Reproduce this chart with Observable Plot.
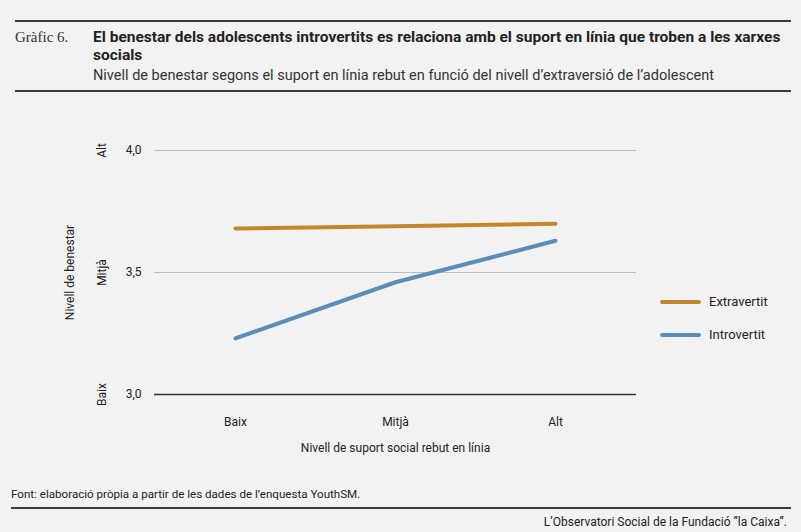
<!DOCTYPE html>
<html>
<head>
<meta charset="utf-8">
<script src="https://cdn.jsdelivr.net/npm/d3@7"></script>
<script src="https://cdn.jsdelivr.net/npm/@observablehq/plot@0.6"></script>
<style>
  html, body { margin: 0; padding: 0; background: #f2f2f2; }
  body { width: 801px; height: 532px; position: relative; overflow: hidden; font-family: Roboto, "Liberation Sans", sans-serif; color: #222; }
  .rule { position: absolute; left: 15px; width: 776px; height: 2px; background: #3a3a3a; }
  .num { position: absolute; left: 15px; top: 29px; font-family: "Liberation Serif", "DejaVu Serif", serif; font-size: 15px; color: #333; }
  .title { position: absolute; left: 93px; top: 28px; width: 695px; font-weight: bold; font-size: 15.5px; line-height: 18px; color: #222; }
  .subtitle { position: absolute; left: 93px; top: 67px; font-size: 14.5px; color: #333; }
  #chart { position: absolute; left: 0; top: 100px; }
  .legend { position: absolute; left: 660px; font-size: 13px; color: #222; }
  .legend span.sw { display: inline-block; width: 41px; height: 4px; border-radius: 2px; vertical-align: middle; margin-right: 8px; position: relative; top: -1px; }
  .source { position: absolute; left: 11px; top: 487px; font-size: 11.6px; color: #222; }
  .credit { position: absolute; right: 14px; top: 515px; font-size: 12px; color: #222; }
</style>
</head>
<body>
<div class="rule" style="top:20px"></div>
<div class="num">Gràfic 6.</div>
<div class="title">El benestar dels adolescents introvertits es relaciona amb el suport en línia que troben a les xarxes socials</div>
<div class="subtitle">Nivell de benestar segons el suport en línia rebut en funció del nivell d’extraversió de l’adolescent</div>
<div class="rule" style="top:90px"></div>
<div id="chart"></div>
<div id="legend"></div>
<div class="source">Font: elaboració pròpia a partir de les dades de l’enquesta YouthSM.</div>
<div class="rule" style="top:507px; left:11px; width:780px"></div>
<div class="credit">L’Observatori Social de la Fundació ”la Caixa”.</div>
<script>
const categories = ["Baix", "Mitjà", "Alt"];
const seriesNames = ["Extravertit", "Introvertit"];
const extravertit = [3.68, 3.69, 3.70];
const introvertit = [3.23, 3.46, 3.63];
const yTicks = [3.0, 3.5, 4.0];
const yLevelLabels = ["Baix", "Mitjà", "Alt"];
const colors = ["#c4862b", "#5b8db7"];

const data = [];
categories.forEach((c, i) => {
  data.push({cat: c, serie: seriesNames[0], value: extravertit[i]});
  data.push({cat: c, serie: seriesNames[1], value: introvertit[i]});
});
const levels = yTicks.map((v, i) => ({v, label: yLevelLabels[i]}));

const fmt = d => d.toFixed(1).replace(".", ",");

const chart = Plot.plot({
  width: 801,
  height: 370,
  marginLeft: 154,
  marginRight: 165,
  marginTop: 50,
  marginBottom: 76,
  style: {background: "transparent", fontFamily: "Roboto, sans-serif", fontSize: "12px", color: "#222"},
  x: {type: "point", domain: categories, padding: 0.5, label: null},
  y: {domain: [3, 4], label: null},
  color: {domain: seriesNames, range: colors},
  marks: [
    Plot.ruleY(yTicks.filter(v => v !== 3), {stroke: "#bdbdbd", strokeWidth: 1}),
    Plot.ruleY([3], {stroke: "#333", strokeWidth: 1.3}),
    Plot.axisY({ticks: yTicks, tickSize: 0, tickPadding: 13, tickFormat: fmt, fontSize: 12, label: null}),
    Plot.text(levels, {y: "v", text: "label", frameAnchor: "left", dx: -52, rotate: -90, textAnchor: "middle", fontSize: 12, fill: "#222"}),
    Plot.text(["Nivell de benestar"], {frameAnchor: "left", dx: -84, rotate: -90, textAnchor: "middle", fontSize: 12, fill: "#222"}),
    Plot.axisX({tickSize: 0, tickPadding: 23, fontSize: 12, label: null}),
    Plot.text(["Nivell de suport social rebut en línia"], {frameAnchor: "bottom", dy: 57, fontSize: 12, fill: "#222"}),
    Plot.line(data, {x: "cat", y: "value", z: "serie", stroke: "serie", strokeWidth: 4, strokeLinecap: "round"})
  ]
});
document.getElementById("chart").appendChild(chart);

const leg = document.getElementById("legend");
seriesNames.forEach((s, i) => {
  const d = document.createElement("div");
  d.className = "legend";
  d.style.top = (294 + i * 33) + "px";
  d.innerHTML = `<span class="sw" style="background:${colors[i]}"></span>${s}`;
  leg.appendChild(d);
});
</script>
</body>
</html>
